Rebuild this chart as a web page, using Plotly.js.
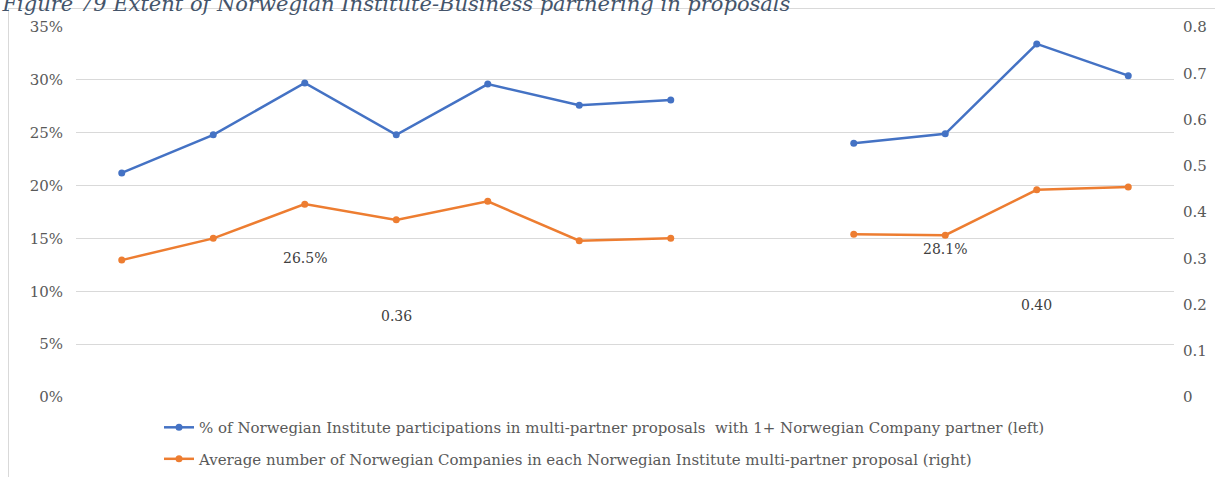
<!DOCTYPE html>
<html>
<head>
<meta charset="utf-8">
<script src="https://cdn.plot.ly/plotly-3.0.1.min.js"></script>
<style>
  html, body { margin: 0; padding: 0; background: #ffffff; overflow: hidden; }
  #frame { position: absolute; left: 8px; top: 8px; width: 1400px; height: 700px; border-left: 1px solid #d9d9d9; border-top: 1px solid #d9d9d9; }
  #chart { position: absolute; left: 0; top: 0; width: 1215px; height: 477px; }
</style>
</head>
<body>
<div id="frame"></div>
<div id="chart"></div>
<script>
// 12 periods; the 8th period has no data (gap in both lines)
const categories = ["P1","P2","P3","P4","P5","P6","P7","P8","P9","P10","P11","P12"];
const shareWithCompany = [0.212, 0.248, 0.297, 0.248, 0.296, 0.276, 0.281, null, 0.240, 0.249, 0.334, 0.304];
const avgCompanies = [0.296, 0.343, 0.417, 0.383, 0.423, 0.338, 0.343, null, 0.352, 0.350, 0.448, 0.454];
const seriesNames = [
  "% of Norwegian Institute participations in multi-partner proposals  with 1+ Norwegian Company partner (left)",
  "Average number of Norwegian Companies in each Norwegian Institute multi-partner proposal (right)"
];
// summary labels shown in the chart
const summaryCats = ["P3", "P4", "P10", "P11"];
const summaryTexts = ["26.5%", "0.36", "28.1%", "0.40"];
const titleText = "Figure 79 Extent of Norwegian Institute-Business partnering in proposals";

// label placement (paper fraction of plot height)
const summaryYPos = [0.376, 0.219, 0.400, 0.249];

const fontFam = "DejaVu Serif, Liberation Serif, serif";
const blue = "#4472C4", orange = "#ED7D31";

const traces = [
  {x: categories, y: shareWithCompany, name: seriesNames[0], type: "scatter", mode: "lines+markers",
   line: {color: blue, width: 2.5}, marker: {color: blue, size: 7}, yaxis: "y", legendgroup: "a"},
  {x: categories, y: avgCompanies, name: seriesNames[1], type: "scatter", mode: "lines+markers",
   line: {color: orange, width: 2.5}, marker: {color: orange, size: 7}, yaxis: "y2", legendgroup: "b"}
];

const annotations = summaryCats.map((c, i) => ({
  x: c, y: summaryYPos[i], xref: "x", yref: "paper", text: summaryTexts[i], showarrow: false,
  font: {family: fontFam, size: 14, color: "#404040"}, xanchor: "center", yanchor: "middle"
}));

const layout = {
  width: 1215, height: 477,
  margin: {l: 76, r: 41, t: 27, b: 80, autoexpand: false},
  paper_bgcolor: "rgba(0,0,0,0)", plot_bgcolor: "rgba(0,0,0,0)",
  font: {family: fontFam, size: 15, color: "#595959"},
  title: {text: titleText, x: 0.002, xanchor: "left", xref: "container", yref: "container",
          y: 0.977, yanchor: "bottom",
          font: {family: fontFam, size: 21, style: "italic", color: "#44546A"}},
  xaxis: {type: "category", range: [-0.5, 11.5], showticklabels: false, showgrid: false,
          zeroline: false, showline: false, ticks: "", fixedrange: true},
  yaxis: {range: [0, 0.35], dtick: 0.05, tickformat: ".0%", showgrid: true, gridcolor: "#d9d9d9",
          gridwidth: 1, zeroline: false, showline: false, ticks: "", ticklabelstandoff: 12,
          tickfont: {family: fontFam, size: 15, color: "#595959"}},
  yaxis2: {range: [0, 0.8], dtick: 0.1, overlaying: "y", side: "right", showgrid: false,
           zeroline: false, showline: false, ticks: "", ticklabelstandoff: 8,
           tickfont: {family: fontFam, size: 15, color: "#595959"}},
  showlegend: true,
  legend: {orientation: "v", x: 0.0756, xanchor: "left", y: -0.038, yanchor: "top",
           traceorder: "grouped", tracegroupgap: 9,
           font: {family: fontFam, size: 15, color: "#595959"}, itemwidth: 30},
  annotations: annotations
};

Plotly.newPlot("chart", traces, layout, {displayModeBar: false, staticPlot: true});
</script>
</body>
</html>
